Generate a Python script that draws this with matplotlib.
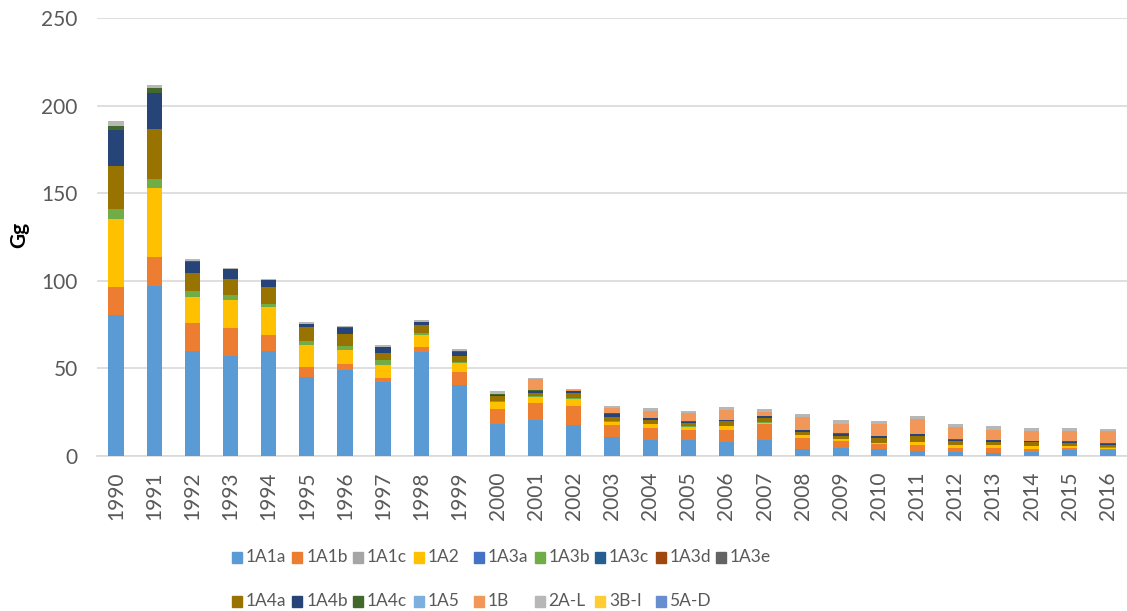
import numpy as np
import matplotlib
matplotlib.use("Agg")
import matplotlib.pyplot as plt
from matplotlib.patches import Rectangle

plt.rcParams['font.family'] = ['Lato', 'DejaVu Sans']

years = [str(y) for y in range(1990, 2017)]

# emissions in Gg, one list per source category (stack order)
v_1A1a = [80.7, 97.3, 59.7, 56.9, 60.1, 45.0, 48.9, 42.0, 59.2, 40.3, 18.1, 20.4, 17.6, 10.9,
          9.4, 9.4, 8.0, 9.4, 4.2, 4.8, 4.2, 3.0, 2.5, 1.9, 2.4, 3.2, 3.2]
v_1A1b = [15.9, 16.1, 16.2, 16.2, 9.0, 5.7, 3.8, 2.3, 3.0, 7.4, 9.0, 9.9, 10.7, 7.0,
          6.3, 5.7, 7.1, 8.6, 6.1, 3.8, 2.9, 3.4, 2.1, 2.5, 1.7, 1.5, 0.6]
v_1A1c = [0.0] * 27
v_1A2 = [38.9, 39.3, 14.9, 16.0, 15.8, 12.6, 8.0, 7.8, 6.7, 5.2, 3.8, 3.1, 4.4, 1.7,
         2.3, 1.5, 2.1, 1.1, 1.7, 1.1, 0.5, 1.7, 1.7, 1.9, 1.5, 0.9, 1.0]
v_1A3a = [0.0] * 27
v_1A3b = [5.7, 5.3, 3.4, 2.7, 1.9, 2.3, 2.3, 2.5, 1.1, 0.5, 0.4, 0.6, 0.6, 0.3,
          0.4, 0.3, 0.2, 0.2, 0.1, 0.1, 0.1, 0.1, 0.1, 0.1, 0.1, 0.1, 0.1]
v_1A3c = [0.0] * 27
v_1A3d = [0.0] * 27
v_1A3e = [0.0] * 27
v_1A4a = [24.4, 28.6, 10.3, 9.5, 9.8, 7.8, 6.7, 4.2, 4.6, 3.9, 2.7, 2.1, 2.5, 2.5,
          1.9, 2.1, 2.3, 2.5, 1.5, 1.9, 2.7, 3.1, 1.9, 1.7, 2.1, 1.9, 1.5]
v_1A4b = [20.3, 20.7, 6.1, 5.2, 3.6, 1.9, 3.4, 3.2, 1.7, 2.2, 1.1, 1.1, 1.1, 1.7,
          1.3, 0.6, 0.9, 0.9, 1.0, 1.0, 1.1, 1.0, 1.0, 1.1, 0.5, 0.4, 0.5]
v_1A4c = [2.6, 2.6, 0.8, 0.3, 0.3, 0.3, 0.3, 0.3, 0.3, 0.3, 0.2, 0.2, 0.2, 0.2,
          0.2, 0.2, 0.2, 0.2, 0.2, 0.2, 0.2, 0.2, 0.2, 0.2, 0.5, 0.4, 0.5]
v_1A5 = [0.0] * 27
v_1B = [0.0, 0.0, 0.0, 0.0, 0.0, 0.0, 0.0, 0.0, 0.0, 0.0, 0.3, 6.5, 0.3, 2.9,
        4.0, 4.6, 5.3, 2.3, 7.4, 5.5, 6.7, 8.4, 7.1, 5.7, 5.3, 5.9, 6.7]
v_2AL = [2.7, 2.1, 0.9, 0.6, 0.6, 0.9, 0.8, 0.8, 1.0, 1.0, 1.5, 0.6, 0.8, 1.5,
         1.5, 1.5, 1.9, 1.9, 1.6, 2.1, 1.5, 1.9, 1.9, 2.1, 1.7, 1.5, 1.3]
v_3BI = [0.0] * 27
v_5AD = [0.0] * 27

labels = ['1A1a', '1A1b', '1A1c', '1A2', '1A3a', '1A3b', '1A3c', '1A3d', '1A3e',
          '1A4a', '1A4b', '1A4c', '1A5', '1B', '2A-L', '3B-I', '5A-D']
series = [v_1A1a, v_1A1b, v_1A1c, v_1A2, v_1A3a, v_1A3b, v_1A3c, v_1A3d, v_1A3e,
          v_1A4a, v_1A4b, v_1A4c, v_1A5, v_1B, v_2AL, v_3BI, v_5AD]
colors = ['#5B9BD5', '#ED7D31', '#A5A5A5', '#FFC000', '#4472C4', '#70AD47', '#255E91',
          '#9E480E', '#636363', '#997300', '#264478', '#43682B', '#7CAFDD', '#F1975A',
          '#B7B7B7', '#FFCD33', '#698ED0']

txt = '#595959'
fs = 15
fig = plt.figure(figsize=(11.27, 6.11), dpi=100)
ax = fig.add_axes([97 / 1127, 1 - 456 / 611, 1030 / 1127, 438 / 611])

x = np.arange(len(years))
bottom = np.zeros(len(years))
for vals, c in zip(series, colors):
    ax.bar(x, vals, width=0.4, bottom=bottom, color=c, edgecolor='none', zorder=3)
    bottom += np.array(vals)

ax.set_xlim(-0.5, len(years) - 0.5)
ax.set_ylim(0, 250)
ax.set_yticks(range(0, 251, 50))
ax.set_xticks(x)
ax.set_xticklabels(years, rotation=90)
ax.grid(axis='y', color='#D9D9D9', linewidth=1.2, zorder=0)
for s in ['top', 'right', 'left']:
    ax.spines[s].set_visible(False)
ax.spines['bottom'].set_color('#D9D9D9')
ax.spines['bottom'].set_linewidth(1.2)
ax.tick_params(axis='y', length=0, pad=14, labelsize=fs, labelcolor=txt)
ax.tick_params(axis='x', length=0, pad=11, labelsize=fs, labelcolor=txt)

fig.text(19 / 1127, 1 - 235 / 611, 'Gg', rotation=90, ha='center', va='center',
         fontsize=fs, fontweight='bold', color='black')

# legend laid out as a 9-wide grid like the original
for i, (lab, c) in enumerate(zip(labels, colors)):
    row, col = divmod(i, 9)
    px = 232 + col * 60.5
    py = 557 + row * 44
    fig.add_artist(Rectangle((px / 1127, 1 - (py + 5.5) / 611), 10 / 1127, 11 / 611,
                             transform=fig.transFigure, color=c))
    fig.text((px + 14) / 1127, 1 - py / 611, lab, ha='left', va='center',
             fontsize=12.5, color=txt)

fig.savefig('out.png', dpi=100)
